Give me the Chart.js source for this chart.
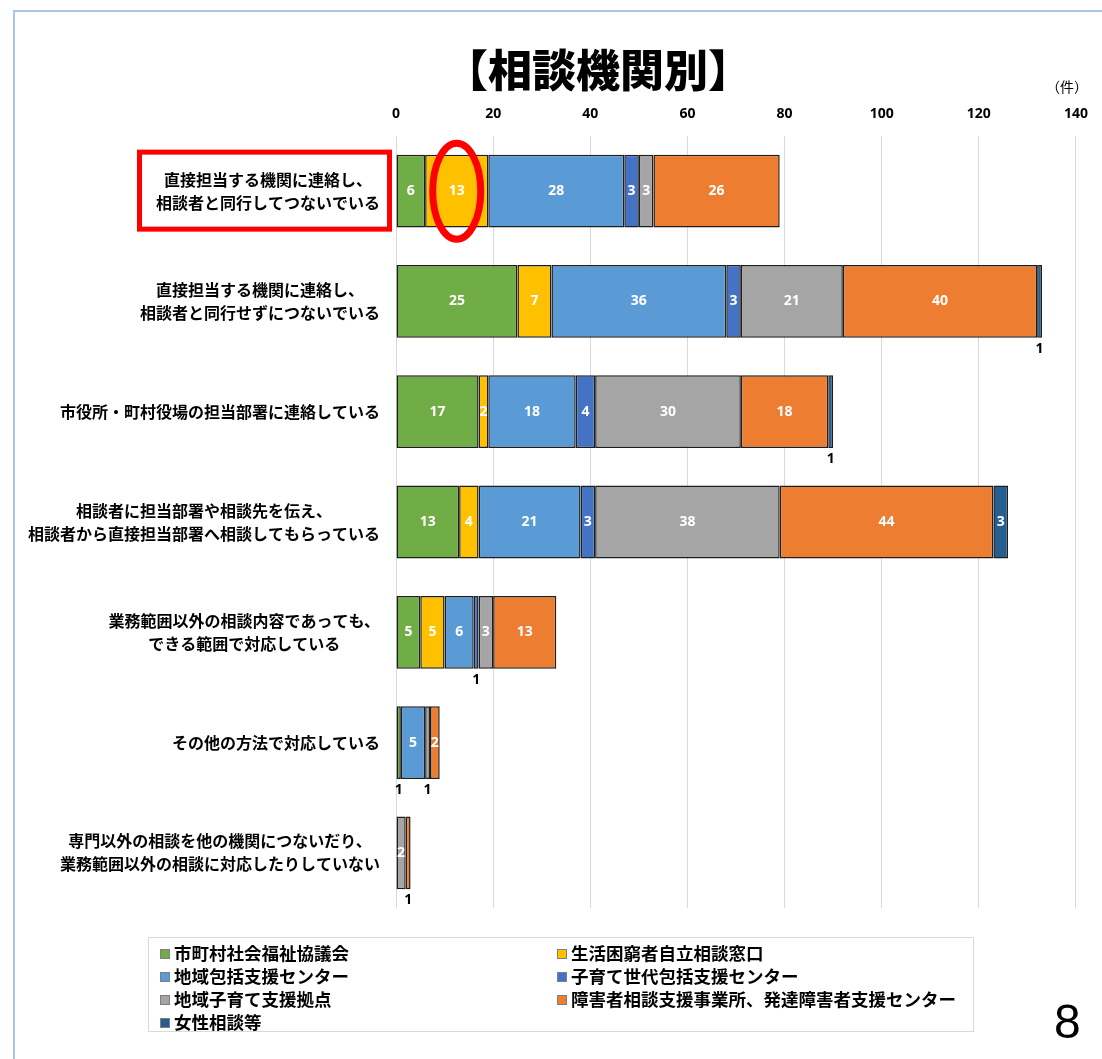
<!DOCTYPE html>
<html lang="ja">
<head>
<meta charset="utf-8">
<title>相談機関別</title>
<script src="https://cdn.jsdelivr.net/npm/chart.js@4/dist/chart.umd.min.js"></script>
<style>
  html, body { margin: 0; padding: 0; background: #fff; }
  body { width: 1102px; height: 1059px; position: relative; overflow: hidden; font-family: "Noto Sans CJK JP", sans-serif; }
  #frame { position: absolute; left: 13px; top: 10px; width: 1100px; height: 1060px; border-left: 2px solid #a9c3ea; border-top: 2px solid #a9c3ea; }
  #wrap { position: absolute; left: 0; top: 0; width: 1102px; height: 1059px; }
  #title { position: absolute; left: 398px; top: 42px; width: 400px; text-align: center; font-size: 44px; line-height: 52px; font-weight: 900; margin: 0; color: #000; }
  #unit { position: absolute; left: 1046px; top: 76px; font-size: 14px; line-height: 20px; color: #000; }
  #legend { position: absolute; left: 148px; top: 937px; width: 826px; height: 95px; border: 1px solid #d9d9d9; box-sizing: border-box; }
  .item { position: absolute; font-size: 17.5px; font-weight: bold; line-height: 22px; white-space: nowrap; color: #000; }
  .item i { display: inline-block; width: 8px; height: 8px; border: 1px solid #7f7f7f; margin-right: 4px; vertical-align: 1px; }
  #page { position: absolute; left: 1054px; top: 994px; font-family: "Liberation Sans", sans-serif; font-size: 48px; line-height: 56px; color: #000; }
</style>
</head>
<body>
<div id="frame"></div>
<div id="wrap"><canvas id="grafico"></canvas></div>
<h1 id="title">【相談機関別】</h1>
<div id="unit">（件）</div>
<div id="legend"></div>
<div id="page">8</div>
<script>
const categorias = [
  ["直接担当する機関に連絡し、", "相談者と同行してつないでいる"],
  ["直接担当する機関に連絡し、", "相談者と同行せずにつないでいる"],
  ["市役所・町村役場の担当部署に連絡している"],
  ["相談者に担当部署や相談先を伝え、", "相談者から直接担当部署へ相談してもらっている"],
  ["業務範囲以外の相談内容であっても、", "できる範囲で対応している"],
  ["その他の方法で対応している"],
  ["専門以外の相談を他の機関につないだり、", "業務範囲以外の相談に対応したりしていない"],
];

const shakyo     = [6, 25, 17, 13, 5, 1, 0];
const konkyu     = [13, 7, 2, 4, 5, 0, 0];
const chiikiHoukatsu = [28, 36, 18, 21, 6, 5, 0];
const kosodateSedai  = [3, 3, 4, 3, 1, 0, 0];
const kosodateKyoten = [3, 21, 30, 38, 3, 1, 2];
const shougai    = [26, 40, 18, 44, 13, 2, 1];
const josei      = [0, 1, 1, 3, 0, 0, 0];

const ejeTicks = [0, 20, 40, 60, 80, 100, 120, 140];

const series = [
  { label: "市町村社会福祉協議会", data: shakyo, color: "#70ad47" },
  { label: "生活困窮者自立相談窓口", data: konkyu, color: "#ffc000" },
  { label: "地域包括支援センター", data: chiikiHoukatsu, color: "#5b9bd5" },
  { label: "子育て世代包括支援センター", data: kosodateSedai, color: "#4472c4" },
  { label: "地域子育て支援拠点", data: kosodateKyoten, color: "#a5a5a5" },
  { label: "障害者相談支援事業所、発達障害者支援センター", data: shougai, color: "#ed7d31" },
  { label: "女性相談等", data: josei, color: "#255e91" },
];

const fuenteNum = '"Noto Sans", sans-serif';
const fuenteJp = '"Noto Sans CJK JP", sans-serif';

// category labels: block right-aligned to the axis, lines centred inside the block
const etiquetasY = {
  id: "etiquetasY",
  afterDraw(chart) {
    const ctx = chart.ctx;
    const y = chart.scales.y;
    ctx.save();
    ctx.font = "bold 16px " + fuenteJp;
    ctx.fillStyle = "#000";
    ctx.textAlign = "center";
    ctx.textBaseline = "middle";
    categorias.forEach((lineas, i) => {
      const cy = y.getPixelForValue(i);
      const ancho = Math.max(...lineas.map(l => ctx.measureText(l).width));
      const cx = 380 - ancho / 2;
      const alto = 23;
      lineas.forEach((l, k) => {
        ctx.fillText(l, cx, cy + (k - (lineas.length - 1) / 2) * alto);
      });
    });
    ctx.restore();
  }
};

// numbers on each segment; segments of 1 get their number under the bar
const valores = {
  id: "valores",
  afterDatasetsDraw(chart) {
    const ctx = chart.ctx;
    ctx.save();
    ctx.font = "bold 14px " + fuenteNum;
    ctx.textAlign = "center";
    ctx.textBaseline = "middle";
    chart.data.datasets.forEach((ds, di) => {
      chart.getDatasetMeta(di).data.forEach((bar, i) => {
        const v = ds.data[i];
        if (!v) return;
        const p = bar.getProps(["x", "base", "y", "height"], true);
        const cx = (p.x + p.base) / 2;
        if (v === 1) {
          ctx.fillStyle = "#000";
          ctx.fillText(v, cx, p.y + p.height / 2 + 11);
        } else {
          ctx.fillStyle = "#fff";
          ctx.fillText(v, cx, p.y);
        }
      });
    });
    ctx.restore();
  }
};

// red marks around the first category and its 13
const marcas = {
  id: "marcas",
  afterDraw(chart) {
    const ctx = chart.ctx;
    const cy = chart.scales.y.getPixelForValue(0);
    const p = chart.getDatasetMeta(1).data[0].getProps(["x", "base", "y"], true);
    ctx.save();
    ctx.strokeStyle = "#ff0000";
    ctx.lineWidth = 5;
    ctx.strokeRect(139.5, cy - 39, 250, 77);
    ctx.lineWidth = 7;
    ctx.beginPath();
    ctx.ellipse((p.x + p.base) / 2, p.y, 24, 48, 0, 0, Math.PI * 2);
    ctx.stroke();
    ctx.restore();
  }
};

const ctx = document.getElementById("grafico").getContext("2d");
const grafico = new Chart(ctx, {
  type: "bar",
  data: {
    labels: categorias,
    datasets: series.map(s => ({
      label: s.label,
      data: s.data,
      backgroundColor: s.color,
      borderColor: "#1e1e1e",
      borderWidth: 1.5,
      borderSkipped: false,
      barPercentage: 0.66,
      categoryPercentage: 1,
    })),
  },
  options: {
    indexAxis: "y",
    responsive: true,
    maintainAspectRatio: false,
    animation: false,
    layout: { padding: { left: 396, right: 22, top: 100, bottom: 151 } },
    plugins: {
      legend: { display: false },
      tooltip: { enabled: false },
    },
    scales: {
      x: {
        position: "top",
        stacked: true,
        min: 0,
        max: 140,
        afterBuildTicks(scale) { scale.ticks = ejeTicks.map(v => ({ value: v })); },
        afterFit(scale) { scale.height = 36; },
        ticks: { color: "#000", padding: 14, font: { family: fuenteNum, size: 14, weight: "bold" } },
        grid: { color: "#d9d9d9", drawTicks: false },
        border: { display: false },
      },
      y: {
        stacked: true,
        display: false,
      },
    },
  },
  plugins: [valores, etiquetasY, marcas],
});

// legend in two columns, filled row by row
const leyenda = document.getElementById("legend");
grafico.data.datasets.forEach((ds, i) => {
  const el = document.createElement("div");
  el.className = "item";
  el.style.left = (i % 2 === 0 ? 11 : 408) + "px";
  el.style.top = (4 + Math.floor(i / 2) * 23) + "px";
  el.innerHTML = '<i style="background:' + ds.backgroundColor + '"></i>' + ds.label;
  leyenda.appendChild(el);
});
</script>
</body>
</html>
